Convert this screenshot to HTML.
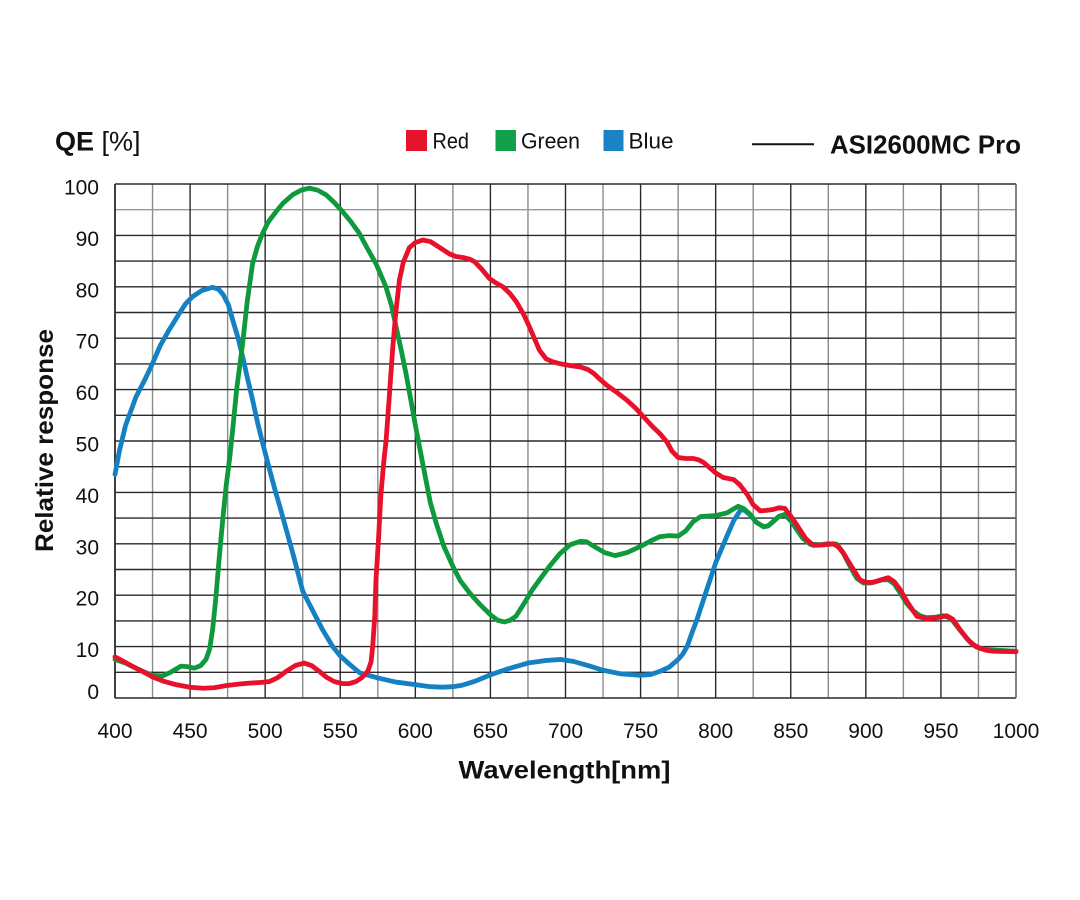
<!DOCTYPE html>
<html>
<head>
<meta charset="utf-8">
<style>
html,body{margin:0;padding:0;background:#fff;}
svg{display:block;}
text{font-family:"Liberation Sans",Arial,sans-serif;fill:#111;}
</style>
</head>
<body>
<svg width="1080" height="900" viewBox="0 0 1080 900" xmlns="http://www.w3.org/2000/svg">
<rect x="0" y="0" width="1080" height="900" fill="#fff"/>

<!-- Title / legend -->
<text x="55" y="150.5" font-size="27"><tspan font-weight="bold">QE</tspan> [%]</text>

<rect x="406" y="130" width="21" height="21" fill="#e6132d"/>
<text x="432.5" y="148.5" font-size="22" textLength="36.5" lengthAdjust="spacingAndGlyphs">Red</text>
<rect x="495.5" y="130" width="20.5" height="21" fill="#12a04a"/>
<text x="521" y="148.5" font-size="22" textLength="59" lengthAdjust="spacingAndGlyphs">Green</text>
<rect x="603.5" y="130" width="20" height="21" fill="#1a83c5"/>
<text x="628.5" y="148.5" font-size="22" textLength="45" lengthAdjust="spacingAndGlyphs">Blue</text>

<line x1="752" y1="144.3" x2="814" y2="144.3" stroke="#111" stroke-width="2"/>
<text x="830" y="153.3" font-size="25.6" font-weight="bold" textLength="191" lengthAdjust="spacingAndGlyphs">ASI2600MC Pro</text>

<!-- Plot group in data coordinates -->
<g transform="translate(115,698) scale(1.501667,-5.14)" fill="none">
  <!-- minor vertical grid (25nm) -->
  <g stroke="#8c8c8c" stroke-width="1.4">
    <path vector-effect="non-scaling-stroke" d="M25,0V100M75,0V100M125,0V100M175,0V100M225,0V100M275,0V100M325,0V100M375,0V100M425,0V100M475,0V100M525,0V100M575,0V100"/>
  </g>
  <!-- horizontal grid -->
  <g stroke="#2a2a2a" stroke-width="1.4">
    <path vector-effect="non-scaling-stroke" d="M0,5H600M0,10H600M0,15H600M0,20H600M0,25H600M0,30H600M0,35H600M0,40H600M0,45H600M0,50H600M0,55H600M0,60H600M0,65H600M0,70H600M0,75H600M0,80H600M0,85H600M0,90H600"/>
  </g>
  <g stroke="#999" stroke-width="1.4">
    <path vector-effect="non-scaling-stroke" d="M0,95H600"/>
  </g>
  <!-- major vertical grid (50nm) -->
  <g stroke="#2a2a2a" stroke-width="1.4">
    <path vector-effect="non-scaling-stroke" d="M50,0V100M100,0V100M150,0V100M200,0V100M250,0V100M300,0V100M350,0V100M400,0V100M450,0V100M500,0V100M550,0V100"/>
  </g>
  <!-- frame -->
  <path vector-effect="non-scaling-stroke" stroke="#2a2a2a" stroke-width="1.6" d="M0,100H600M0,0H600"/>
  <path vector-effect="non-scaling-stroke" stroke="#2a2a2a" stroke-width="1.8" d="M0,0V100"/>
  <path vector-effect="non-scaling-stroke" stroke="#666" stroke-width="1.6" d="M600,0V100"/>

  <!-- Blue -->
  <polyline vector-effect="non-scaling-stroke" stroke="#1580c2" stroke-width="4.8" stroke-linejoin="round" stroke-linecap="round"
  points="0,43.5 3,48.2 7,53 14,58.6 20,62 25,65.1 30,68.5 36,71.6 42.8,74.8 47,76.7 51.7,78.1 58,79.3 65,79.9 69,79.5 72,78.5 75.5,76.5 78.4,73.5 82,70 85,66.4 88,62.5 91.7,57.9 95,53.5 98.4,49.5 100,47.7 103.5,43.8 107,40 110,37 114,32.8 119,27.5 125,20.8 132,16.8 138,13.4 145,10 150,8.2 156,6.6 163,4.9 175,3.9 187,3.1 200,2.6 210,2.2 218,2.1 225,2.2 231.5,2.5 240,3.3 250,4.5 262,5.7 275,6.8 287,7.3 297,7.5 305.5,7.1 315,6.3 325,5.4 337,4.7 350,4.4 357,4.6 363,5.2 369,6 375,7.5 378,8.5 381,10 384,12.5 387.6,15.3 394,21 400,26.3 407.5,31.5 412,34.5 416.4,36.5 419,36.6 423,35.6 427,34.2 432,33.3 435,33.5 438.6,34.4 442,35.3 446,35.7 450,34.5 454,32.8 458,31.1 463,29.9 469,29.8 475,30 480.7,29.9 485,28.2 489.6,25.6 494,23.3 498.4,22.4 503,22.4 507,22.7 511,23 515,23 519,22.2 522.8,20.5 527,18.5 531.7,16.9 536,16 540.6,15.6 546,15.7 551.7,16 555,15.7 558,15 562,13.5 567,11.7 571,10.4 576,9.7 580,9.4 585,9.3 600,9.1"/>

  <!-- Green -->
  <polyline vector-effect="non-scaling-stroke" stroke="#0e9a3c" stroke-width="4.8" stroke-linejoin="round" stroke-linecap="round"
  points="0,7.5 7,6.8 14,5.8 20,5 25,4.4 31.7,4.3 37,5 44,6.2 48,6.1 52.8,5.8 57,6.3 60.6,7.5 63,9.5 65,13.3 67,19 69.5,27.6 72,35.5 74,41.2 76.5,47 78.4,52.3 81,60 85,69 88,77 91.6,84.5 95,88 98.3,90.4 102,92.6 107.2,94.6 112,96.3 118.3,97.9 124,98.8 129.4,99.2 135,98.8 140.5,97.9 146,96.4 151.6,94.6 157,92.7 162.7,90.4 168,87.5 173.8,84.5 180.4,80 184,76.5 187.2,72.2 190.5,67.8 193.8,63.1 197,58 200.4,52.5 204,47 207,42.5 210,38 213.8,34.1 219,29.5 225,25.6 230,22.8 236,20.5 243,18.2 250,16.2 255,15.1 259.3,14.8 263,15.1 267,15.9 272,18.2 278,21.1 284,23.5 289.3,25.6 296,28 303,29.8 310,30.5 314,30.4 319,29.5 326,28.3 333,27.7 341,28.3 350,29.5 357,30.6 363,31.4 369,31.6 375,31.5 380,32.5 385,34.3 390,35.3 400,35.5 407.5,36 412,36.8 415,37.3 419,36.8 423,35.7 427,34.2 432,33.3 435,33.5 438.6,34.4 442,35.3 446,35.7 450,34.5 454,32.8 458,31.1 463,29.9 469,29.8 475,30 480.7,29.9 485,28.2 489.6,25.6 494,23.3 498.4,22.4 503,22.4 507,22.7 511,23 515,23 519,22.2 522.8,20.5 527,18.5 531.7,16.9 536,16 540.6,15.6 546,15.7 551.7,16 555,15.7 558,15 562,13.5 567,11.7 571,10.4 576,9.7 580,9.4 585,9.3 600,9.1"/>

  <!-- Red -->
  <polyline vector-effect="non-scaling-stroke" stroke="#e8102a" stroke-width="4.8" stroke-linejoin="round" stroke-linecap="round"
  points="0,8 7,6.9 14,5.8 20,4.9 25,4.1 32,3.3 40.6,2.6 50,2.1 58.4,1.9 66,2 74,2.4 82,2.7 89.5,2.9 96,3 102.8,3.2 108,3.9 114,5.2 120,6.3 126,6.8 131,6.3 136,5.2 141,4 146,3.2 151.6,2.8 156,2.8 160.5,3.2 164.5,4 168.3,5.2 170.5,7 171.6,10 173,16 173.8,23 175.5,31 177,39.3 179,46 180.5,50 182.5,58 185,68.3 187,75 189.4,81.3 192,84.8 196,87.6 200,88.6 205,89.1 210,88.8 213.8,88.1 218,87.3 222.7,86.4 227,85.9 231.6,85.7 236,85.4 239.4,84.9 244,83.5 249.4,81.6 254,80.7 258.3,80 263,78.7 267.2,77.1 272,74.7 276,72.2 279.5,69.8 282.6,67.7 287,66 291.5,65.4 297,65 302.6,64.7 310,64.4 315,63.9 319,63.1 323,62 327.7,60.8 334,59.5 341,57.9 347,56.3 352,54.7 358,52.8 363,51.4 367.6,49.8 371,48 375,46.8 380,46.6 385,46.6 389,46.3 392,45.8 396,44.8 400,43.8 405,42.9 412,42.5 416,41.5 421,39.6 425,37.6 429.7,36.4 434,36.5 438.6,36.7 442,37 446,36.9 451,35 456,32.8 460,31 465,29.7 472,29.8 478.5,30 482,29.3 485,28.2 490,25.8 496,23 500,22.5 505,22.5 510,23 515,23.4 519,22.6 522.8,21.1 528,18.5 534,15.9 540.6,15.4 547,15.6 554,16 558,15.3 562.7,13.3 568,11.3 573.8,9.9 580,9.3 585,9.1 600,9"/>
</g>

<!-- Y tick labels -->
<g font-size="21" text-anchor="end">
  <text x="99" y="194.5">100</text>
  <text x="99" y="245.9">90</text>
  <text x="99" y="297.3">80</text>
  <text x="99" y="348.7">70</text>
  <text x="99" y="400.1">60</text>
  <text x="99" y="451.5">50</text>
  <text x="99" y="502.9">40</text>
  <text x="99" y="554.3">30</text>
  <text x="99" y="605.7">20</text>
  <text x="99" y="657.1">10</text>
  <text x="99" y="699">0</text>
</g>

<!-- X tick labels -->
<g font-size="21" text-anchor="middle">
  <text x="115" y="738">400</text>
  <text x="190.1" y="738">450</text>
  <text x="265.2" y="738">500</text>
  <text x="340.3" y="738">550</text>
  <text x="415.3" y="738">600</text>
  <text x="490.4" y="738">650</text>
  <text x="565.5" y="738">700</text>
  <text x="640.6" y="738">750</text>
  <text x="715.7" y="738">800</text>
  <text x="790.8" y="738">850</text>
  <text x="865.8" y="738">900</text>
  <text x="940.9" y="738">950</text>
  <text x="1016" y="738">1000</text>
</g>

<!-- Axis titles -->
<text x="458.5" y="778.3" font-size="25" font-weight="bold" textLength="212" lengthAdjust="spacingAndGlyphs">Wavelength[nm]</text>
<text transform="translate(53,440.5) rotate(-90)" font-size="25" font-weight="bold" text-anchor="middle" textLength="223" lengthAdjust="spacingAndGlyphs">Relative response</text>
</svg>
</body>
</html>
